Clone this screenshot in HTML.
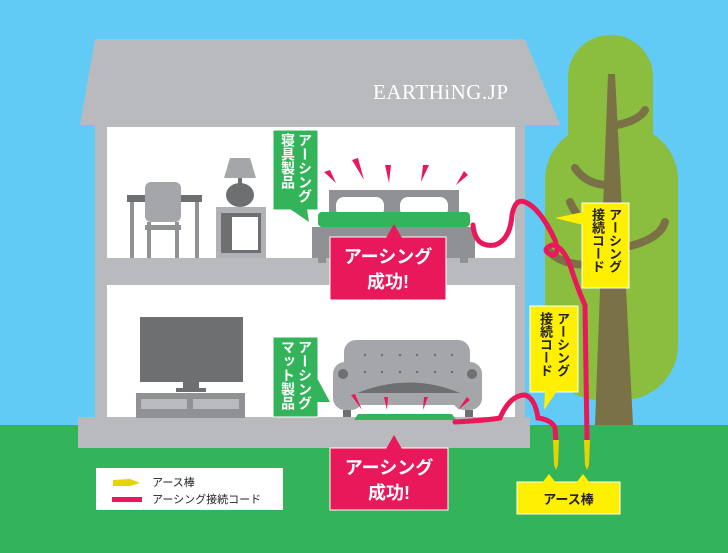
<!DOCTYPE html>
<html><head><meta charset="utf-8"><style>
body{margin:0;width:728px;height:553px;overflow:hidden;background:#62cbf5;font-family:"Liberation Sans","Noto Sans CJK JP",sans-serif}
svg{position:absolute;left:0;top:0}
.t{position:absolute;font-family:"Liberation Sans","Noto Sans CJK JP",sans-serif;font-weight:bold}
.v{writing-mode:vertical-rl;line-height:17px;font-size:13px;letter-spacing:0}
</style></head><body>
<svg width="728" height="553" viewBox="0 0 728 553">
<rect x="0" y="425" width="728" height="128" fill="#34b45a"/>
<rect x="568" y="35" width="85" height="200" rx="42" fill="#8bbd3e"/>
<rect x="545" y="125" width="133" height="275" rx="55" fill="#8bbd3e"/>
<g stroke="#7a7246" stroke-width="8" fill="none" stroke-linecap="round">
<path d="M617 125 Q640 120 645 110"/>
<path d="M575 168 Q585 183 605 185"/>
<path d="M570 202 Q580 225 600 228"/>
<path d="M622 248 Q660 240 665 222"/>
<path d="M548 250 Q560 265 590 265"/>
</g>
<polygon points="608,74 615,74 633,425 595,425" fill="#7a7246"/>
<polygon points="95,39 525,39 560,125 80,125" fill="#b9babd"/>
<rect x="95" y="125" width="430" height="300" fill="#b9babd"/>
<rect x="107" y="127" width="408" height="131" fill="#fff"/>
<rect x="107" y="285" width="408" height="132" fill="#fff"/>
<rect x="78" y="417" width="452" height="31" fill="#b9babd"/>
<rect x="127" y="195" width="75" height="7" fill="#6e6f71"/>
<rect x="130" y="202" width="4" height="56" fill="#909194"/><rect x="195" y="202" width="4" height="56" fill="#909194"/>
<rect x="145" y="182" width="36" height="40" rx="6" fill="#a5a6a9"/>
<rect x="147" y="222" width="4" height="36" fill="#909194"/><rect x="175" y="222" width="4" height="36" fill="#909194"/>
<rect x="145" y="225" width="36" height="5" fill="#909194"/>
<polygon points="230,158 250,158 256,178 224,178" fill="#a5a6a9"/>
<rect x="238" y="178" width="4" height="6" fill="#6e6f71"/>
<ellipse cx="240" cy="195" rx="14" ry="12" fill="#6e6f71"/>
<rect x="216" y="207" width="50" height="51" fill="#b0b1b4"/>
<rect x="221" y="213" width="40" height="40" fill="#6e6f71"/>
<rect x="232" y="217" width="26" height="33" fill="#fff"/>
<rect x="329" y="190" width="130" height="25" fill="#909194"/>
<rect x="336" y="197" width="48" height="20" rx="8" fill="#fff"/><rect x="400" y="197" width="48" height="20" rx="8" fill="#fff"/>
<rect x="318" y="212" width="152" height="15" rx="4" fill="#34b45a"/>
<rect x="312" y="227" width="163" height="31" fill="#909194"/>
<rect x="318" y="258" width="8" height="5" fill="#909194"/><rect x="460" y="258" width="8" height="5" fill="#909194"/>
<g fill="#e8185a">
<polygon points="324,172 330,170 336,183"/><polygon points="352,160 358,158 364,180"/><polygon points="385,165 391,165 389,183"/><polygon points="423,165 429,165 421,182"/><polygon points="464,171 468,175 456,185"/>
</g>
<rect x="330" y="237" width="116" height="63" fill="#e8185a" stroke="#fff" stroke-width="1"/>
<polygon points="386,238 394,224 402,238" fill="#e8185a"/>
<rect x="273" y="130" width="45" height="80" fill="#34b45a" stroke="#fff"/>
<polygon points="290,209 307,209 309,222" fill="#34b45a"/>
<rect x="140" y="317" width="103" height="65" fill="#6e6f71"/>
<rect x="183" y="382" width="16" height="7" fill="#6e6f71"/>
<rect x="176" y="388" width="30" height="4" fill="#6e6f71"/>
<rect x="136" y="393" width="109" height="25" fill="#909194"/>
<rect x="141" y="399" width="46" height="10" fill="#b9babd"/><rect x="193" y="399" width="46" height="10" fill="#b9babd"/>
<rect x="344" y="340" width="126" height="65" rx="12" fill="#a5a6a9"/>
<rect x="333" y="362" width="30" height="48" rx="12" fill="#a5a6a9"/><rect x="452" y="362" width="30" height="48" rx="12" fill="#a5a6a9"/>
<circle cx="343" cy="374" r="5" fill="#6e6f71"/><circle cx="472" cy="374" r="5" fill="#6e6f71"/>
<path d="M357 393 Q410 372 460 393 Z" fill="#6e6f71"/>
<rect x="343" y="410" width="8" height="7" fill="#6e6f71"/><rect x="465" y="410" width="8" height="7" fill="#6e6f71"/>
<g fill="#6e6f71"><circle cx="365" cy="355" r="1.2"/><circle cx="382" cy="355" r="1.2"/><circle cx="400" cy="355" r="1.2"/><circle cx="417" cy="355" r="1.2"/><circle cx="435" cy="355" r="1.2"/><circle cx="452" cy="355" r="1.2"/>
<circle cx="365" cy="372" r="1.2"/><circle cx="382" cy="372" r="1.2"/><circle cx="400" cy="372" r="1.2"/><circle cx="417" cy="372" r="1.2"/><circle cx="435" cy="372" r="1.2"/><circle cx="452" cy="372" r="1.2"/></g>
<g fill="#e8185a"><polygon points="351,395 355,394 362,410"/><polygon points="384,397 388,397 387,410"/><polygon points="424,397 428,397 423,410"/><polygon points="467,397 470,400 458,410"/></g>
<polygon points="358,414 452,414 456,420 354,420" fill="#34b45a"/>
<rect x="273" y="337" width="45" height="80" fill="#34b45a" stroke="#fff"/>
<polygon points="317,378 330,402 317,402" fill="#34b45a"/>
<rect x="330" y="448" width="118" height="62" fill="#e8185a" stroke="#fff"/>
<polygon points="386,449 394,435 402,449" fill="#e8185a"/>
<g stroke="#e8185a" stroke-width="5" fill="none" stroke-linecap="round">
<path d="M473 225 Q475 248 495 245 Q510 240 512 215 Q515 198 525 202 Q540 208 555 240 Q560 255 552 255 Q540 250 552 245 Q562 245 570 265 Q578 290 585 305 L587 440"/>
<path d="M455 422 Q490 420 500 418 Q510 395 525 395 Q535 398 538 418 Q552 420 555 428 L556 442"/>
</g>
<polygon points="553,440 559,440 558,465 556,470 554,465" fill="#e6d400"/>
<polygon points="584,440 590,440 589,465 587,470 585,465" fill="#e6d400"/>
<rect x="582" y="203" width="47" height="85" fill="#ffef00" stroke="#fff"/>
<polygon points="583,212 555,218 583,225" fill="#ffef00"/>
<rect x="530" y="306" width="48" height="86" fill="#ffef00" stroke="#fff"/>
<polygon points="545,391 557,391 544,410" fill="#ffef00"/>
<rect x="517" y="482" width="103" height="32" fill="#ffef00" stroke="#fff"/>
<polygon points="542,483 549,474 556,483" fill="#ffef00"/><polygon points="576,483 583,474 590,483" fill="#ffef00"/>
<rect x="96" y="468" width="187" height="42" fill="#fff"/>
<polygon points="113,480 130,479 140,483 130,486 113,486" fill="#e6d400"/>
<rect x="112" y="497" width="30" height="5" fill="#e8185a"/>
</svg>
<div class="t" style="left:373px;top:80px;font-family:'Liberation Serif',serif;font-weight:normal;font-size:21px;color:#fff;letter-spacing:0.5px">EARTHiNG.JP</div>
<div class="t v" style="left:279px;top:133px;color:#fff;height:78px;font-size:14px">アーシング<br>寝具製品</div>
<div class="t v" style="left:279px;top:340px;color:#fff;height:78px;font-size:14px">アーシング<br>マット製品</div>
<div class="t v" style="left:589px;top:208px;color:#222;height:80px">アーシング<br>接続コード</div>
<div class="t v" style="left:537px;top:312px;color:#222;height:80px">アーシング<br>接続コード</div>
<div class="t" style="left:330px;top:245px;width:116px;text-align:center;color:#fff;font-size:18px;line-height:25px">アーシング<br>成功!</div>
<div class="t" style="left:330px;top:456px;width:118px;text-align:center;color:#fff;font-size:18px;line-height:25px">アーシング<br>成功!</div>
<div class="t" style="left:517px;top:489px;width:103px;text-align:center;color:#222;font-size:13px">アース棒</div>
<div class="t" style="left:152px;top:474px;color:#222;font-size:11px;font-weight:normal">アース棒</div>
<div class="t" style="left:152px;top:491px;color:#222;font-size:11px;font-weight:normal">アーシング接続コード</div>
</body></html>
